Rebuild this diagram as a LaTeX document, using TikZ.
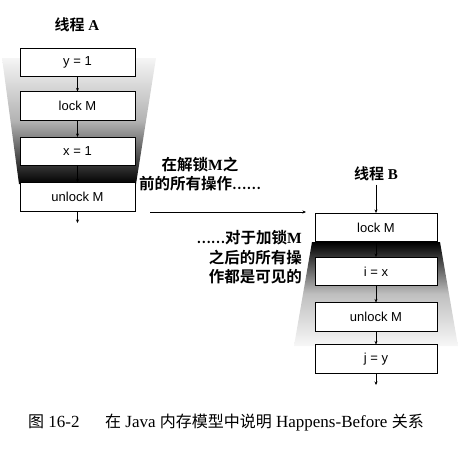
\documentclass[tikz,border=0pt]{standalone}
\usepackage{fontspec}
\setmainfont{Liberation Serif}
\setsansfont{Liberation Sans}
\newfontfamily\cjk{Noto Sans CJK SC}
\newfontfamily\cjkb{Noto Sans CJK SC Bold}
\usetikzlibrary{arrows.meta}
\newcommand{\cjc}[1]{{\fontsize{16}{17}\selectfont\cjk #1}}
\newcommand{\dotsb}{{\fontsize{13}{14}\selectfont\cjkb ……}}
\begin{document}
\begin{tikzpicture}[x=1pt,y=-1pt,
  opbox/.style={draw=black,line width=0.6pt,fill=white,minimum width=#1,minimum height=28.5pt,inner sep=0pt,font=\sffamily\fontsize{13}{14}\selectfont},
  opbox/.default=115pt,
  flow/.style={-{Stealth[length=3.5pt,width=3pt]},line width=0.5pt},
  ttl/.style={font=\fontsize{15}{17}\selectfont},
  note/.style={font=\fontsize{15.5}{19.5}\selectfont,align=center,inner sep=0pt}]
\useasboundingbox (0,0) rectangle (458,448);
% shading thread A
\shade[top color=gray!8,bottom color=black,middle color=gray!60]
  (2,58) -- (156,58) -- (136,184) -- (19,184) -- cycle;
% shading thread B
\shade[top color=black,bottom color=gray!6,middle color=gray!50]
  (312,242) -- (440,242) -- (458,346) -- (294,346) -- cycle;
% thread A
\node[ttl] (ta) at (77,25) {{\cjkb 线程} \textbf{A}};
\node[opbox] (a1) at (77.5,62.5) {y = 1};
\node[opbox] (a2) at (77.5,106) {lock M};
\node[opbox] (a3) at (77.5,151.5) {x = 1};
\node[opbox] (a4) at (77.5,197) {unlock M};
\coordinate (aend) at (77.5,223);
\draw[flow] (a1) -- (a2);
\draw[flow] (a2) -- (a3);
\draw[flow] (a3) -- (a4);
\draw[flow] (a4) -- (aend);
% thread B
\node[ttl] (tb) at (376,174) {{\cjkb 线程} \textbf{B}};
\node[opbox=122pt] (b1) at (376,227.5) {lock M};
\node[opbox=122pt] (b2) at (376,271.5) {i = x};
\node[opbox=122pt] (b3) at (376,317) {unlock M};
\node[opbox=122pt] (b4) at (376,359) {j = y};
\coordinate (bend) at (376,385);
\draw[flow] (tb) -- (b1);
\draw[flow] (b1) -- (b2);
\draw[flow] (b2) -- (b3);
\draw[flow] (b3) -- (b4);
\draw[flow] (b4) -- (bend);
% happens-before arrow
\coordinate (hs) at (150,212);
\coordinate (he) at (306,212);
\draw[flow,line width=0.6pt] (hs) -- (he);
% notes
\node[note] (n1) at (200,174) {{\cjkb 在解锁}\textbf{M}{\cjkb 之}\\{\cjkb 前的所有操作}\dotsb};
\node[note,align=right,anchor=east] (n2) at (302,257.5) {\dotsb{\cjkb 对于加锁}\textbf{M}\\{\cjkb 之后的所有操}\\{\cjkb 作都是可见的}};
% caption
\node[font=\fontsize{17}{18}\selectfont,inner sep=0pt] (cap) at (226,423) {\cjc{图} 16-2\hspace{1.5em}\cjc{在} Java \cjc{内存模型中说明} Happens-Before \cjc{关系}};
\end{tikzpicture}
\end{document}
